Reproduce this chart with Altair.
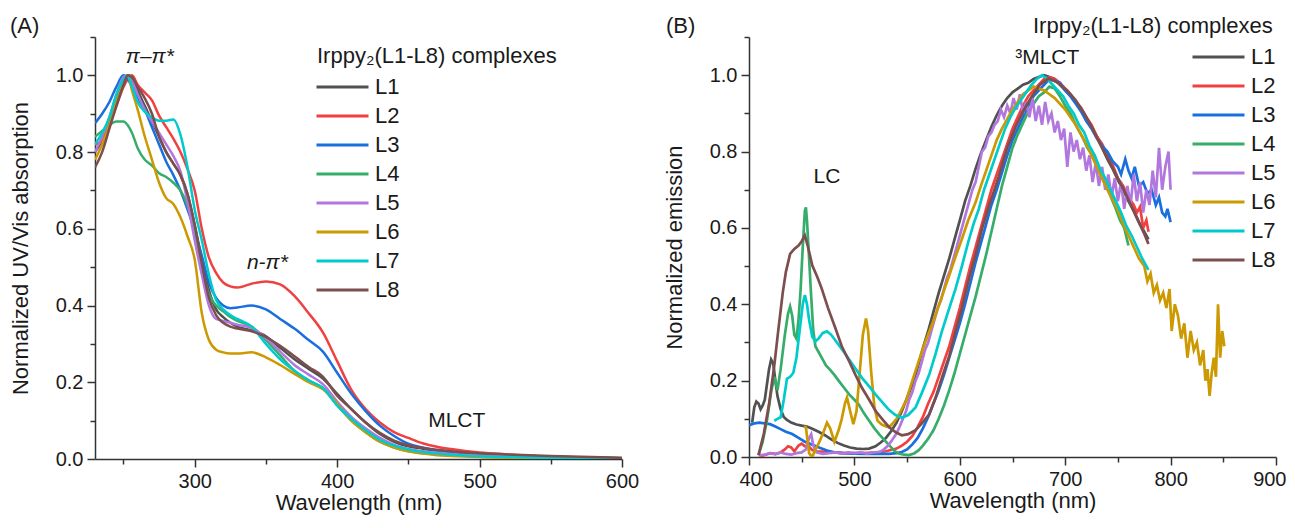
import altair as alt
import pandas as pd

FONT = "Liberation Sans"
series = ["L1", "L2", "L3", "L4", "L5", "L6", "L7", "L8"]
palette = ["#515151", "#F14040", "#1A6FDF", "#37AD6B", "#B177DE", "#CC9900", "#00CBCC", "#7D4E4E"]

# ---------------- Panel A: UV/Vis absorption ----------------
abs_wl = [230, 235, 240, 245, 250, 253, 256, 260, 265, 270, 275, 280, 285, 290, 295, 300, 305, 310, 315, 320,
          325, 330, 340, 350, 360, 370, 380, 390, 400, 410, 420, 430, 440, 450, 460, 470, 480, 500, 520, 550, 600]
abs_L1 = [0.80, 0.83, 0.88, 0.94, 0.985, 1.0, 0.99, 0.96, 0.92, 0.88, 0.84, 0.80, 0.77, 0.74, 0.69, 0.61, 0.52, 0.44, 0.39, 0.37,
          0.355, 0.345, 0.335, 0.32, 0.29, 0.26, 0.235, 0.21, 0.17, 0.13, 0.095, 0.065, 0.045, 0.033, 0.027, 0.022, 0.019, 0.014, 0.01, 0.006, 0.002]
abs_L2 = [0.82, 0.83, 0.87, 0.92, 0.97, 0.99, 1.0, 0.975, 0.955, 0.935, 0.895, 0.865, 0.835, 0.80, 0.755, 0.70, 0.60, 0.525, 0.485, 0.46,
          0.45, 0.447, 0.457, 0.463, 0.455, 0.425, 0.38, 0.33, 0.255, 0.18, 0.13, 0.095, 0.07, 0.055, 0.041, 0.032, 0.026, 0.017, 0.012, 0.006, 0.002]
abs_L3 = [0.875, 0.90, 0.93, 0.97, 1.0, 0.99, 0.97, 0.94, 0.91, 0.865, 0.82, 0.775, 0.74, 0.70, 0.65, 0.595, 0.53, 0.46, 0.42, 0.40,
          0.393, 0.395, 0.40, 0.39, 0.365, 0.34, 0.31, 0.28, 0.225, 0.17, 0.125, 0.087, 0.06, 0.04, 0.03, 0.022, 0.018, 0.012, 0.008, 0.005, 0.002]
abs_L4 = [0.84, 0.855, 0.87, 0.88, 0.88, 0.87, 0.85, 0.81, 0.78, 0.765, 0.745, 0.735, 0.72, 0.70, 0.66, 0.59, 0.50, 0.43, 0.40, 0.385,
          0.37, 0.36, 0.345, 0.31, 0.27, 0.23, 0.205, 0.185, 0.14, 0.10, 0.07, 0.045, 0.03, 0.02, 0.015, 0.012, 0.01, 0.006, 0.004, 0.002, 0.001]
abs_L5 = [0.80, 0.84, 0.89, 0.95, 0.995, 1.0, 0.985, 0.95, 0.91, 0.88, 0.85, 0.82, 0.79, 0.75, 0.67, 0.57, 0.48, 0.40, 0.365, 0.36,
          0.355, 0.35, 0.342, 0.315, 0.28, 0.245, 0.22, 0.195, 0.15, 0.11, 0.08, 0.055, 0.037, 0.026, 0.02, 0.016, 0.013, 0.009, 0.006, 0.003, 0.001]
abs_L6 = [0.78, 0.82, 0.87, 0.93, 0.98, 1.0, 0.96, 0.91, 0.84, 0.78, 0.72, 0.68, 0.665, 0.63, 0.58, 0.52, 0.38, 0.31, 0.285, 0.278,
          0.275, 0.275, 0.278, 0.265, 0.245, 0.222, 0.20, 0.182, 0.145, 0.10, 0.07, 0.045, 0.03, 0.02, 0.014, 0.01, 0.008, 0.005, 0.003, 0.002, 0.001]
abs_L7 = [0.82, 0.85, 0.89, 0.95, 0.99, 1.0, 0.97, 0.93, 0.905, 0.89, 0.882, 0.882, 0.885, 0.845, 0.76, 0.65, 0.57, 0.48, 0.415, 0.39,
          0.375, 0.365, 0.345, 0.30, 0.26, 0.23, 0.205, 0.185, 0.14, 0.105, 0.075, 0.05, 0.035, 0.025, 0.018, 0.014, 0.011, 0.007, 0.005, 0.003, 0.001]
abs_L8 = [0.76, 0.80, 0.86, 0.92, 0.975, 1.0, 0.995, 0.97, 0.94, 0.90, 0.84, 0.80, 0.77, 0.74, 0.69, 0.61, 0.51, 0.42, 0.375, 0.355,
          0.345, 0.34, 0.333, 0.318, 0.295, 0.268, 0.24, 0.215, 0.165, 0.13, 0.095, 0.068, 0.048, 0.036, 0.029, 0.024, 0.02, 0.015, 0.012, 0.008, 0.003]

# ---------------- Panel B: emission ----------------
em_L1_wl = [403, 405, 407, 409, 411, 413, 415, 417, 419, 421, 423, 425, 427, 430, 433, 436, 440, 445, 450, 455, 460, 466, 472, 478,
            484, 490, 496, 502, 508, 514, 520, 525, 530, 535, 540, 545, 550, 555, 560, 565, 570, 575, 580, 585, 590, 595, 600, 605,
            610, 615, 620, 625, 630, 635, 640, 645, 650, 655, 660, 665, 670, 675, 680, 685, 690, 695, 700, 705, 710, 715, 720, 725,
            730, 735, 740, 745, 750, 755, 760, 765, 770, 775, 779]
em_L1 = [0.09, 0.13, 0.145, 0.14, 0.125, 0.135, 0.15, 0.19, 0.23, 0.255, 0.245, 0.20, 0.16, 0.125, 0.105, 0.097, 0.09, 0.085, 0.082, 0.08, 0.074, 0.066, 0.057, 0.046,
         0.037, 0.03, 0.025, 0.022, 0.021, 0.022, 0.028, 0.038, 0.05, 0.068, 0.09, 0.12, 0.155, 0.19, 0.235, 0.285, 0.33, 0.38, 0.43, 0.475, 0.52, 0.57, 0.62, 0.67,
         0.71, 0.755, 0.795, 0.83, 0.865, 0.895, 0.92, 0.94, 0.955, 0.965, 0.975, 0.98, 0.99, 0.995, 1.0, 0.995, 0.99, 0.975, 0.96, 0.945, 0.93, 0.91, 0.89, 0.865,
         0.84, 0.81, 0.78, 0.755, 0.725, 0.70, 0.67, 0.645, 0.615, 0.59, 0.57]

em_L2_wl = [410, 415, 420, 425, 430, 434, 437, 440, 443, 447, 450, 453, 456, 460, 465, 470, 480, 490, 500, 510, 520, 530, 540, 545,
            550, 555, 560, 565, 570, 575, 580, 585, 590, 595, 600, 605, 610, 615, 620, 625, 630, 635, 640, 645, 650, 655, 660, 665,
            670, 675, 680, 685, 690, 695, 700, 705, 710, 715, 720, 725, 730, 735, 740, 745, 750, 755, 760, 765, 768, 771, 774, 777, 779]
em_L2 = [0.0, 0.005, 0.01, 0.008, 0.012, 0.02, 0.028, 0.025, 0.015, 0.03, 0.035, 0.028, 0.03, 0.018, 0.015, 0.014, 0.012, 0.01, 0.01, 0.01, 0.012, 0.015, 0.022, 0.03,
         0.04, 0.055, 0.078, 0.105, 0.14, 0.17, 0.21, 0.25, 0.29, 0.34, 0.39, 0.445, 0.50, 0.55, 0.60, 0.65, 0.70, 0.74, 0.78, 0.82, 0.86, 0.89, 0.92, 0.945,
         0.96, 0.975, 0.99, 0.995, 0.99, 0.98, 0.965, 0.95, 0.93, 0.915, 0.89, 0.87, 0.84, 0.82, 0.79, 0.765, 0.73, 0.71, 0.68, 0.66, 0.64, 0.655, 0.60, 0.62, 0.59]

em_L3_wl = [400, 405, 410, 415, 420, 425, 430, 435, 441, 447, 453, 460, 467, 474, 481, 490, 500, 511, 522, 533, 540, 545, 550, 555,
            560, 565, 570, 575, 580, 585, 590, 595, 600, 605, 610, 615, 620, 625, 630, 635, 640, 645, 650, 655, 660, 665, 670, 675,
            680, 685, 690, 695, 700, 705, 710, 715, 720, 725, 730, 735, 740, 745, 750, 753, 757, 760, 763, 766, 770, 774, 778, 782,
            786, 789, 792, 795, 797, 800]
em_L3 = [0.083, 0.088, 0.09, 0.088, 0.086, 0.08, 0.073, 0.066, 0.06, 0.05, 0.04, 0.032, 0.024, 0.017, 0.012, 0.01, 0.009, 0.008, 0.008, 0.008, 0.01, 0.013, 0.02, 0.033,
         0.05, 0.075, 0.105, 0.14, 0.175, 0.215, 0.26, 0.305, 0.35, 0.40, 0.455, 0.51, 0.56, 0.61, 0.66, 0.70, 0.745, 0.79, 0.83, 0.86, 0.89, 0.92, 0.945, 0.96,
         0.975, 0.99, 0.985, 0.98, 0.96, 0.945, 0.925, 0.905, 0.88, 0.86, 0.835, 0.815, 0.80, 0.775, 0.76, 0.74, 0.78, 0.75, 0.73, 0.76, 0.71, 0.72, 0.69, 0.70,
         0.66, 0.68, 0.64, 0.63, 0.65, 0.615]

em_L4_wl = [409, 413, 417, 421, 424, 427, 430, 434, 437, 439, 441, 443, 445, 447, 449, 451, 453, 454, 455, 457, 459, 461, 463, 466,
            470, 473, 477, 481, 485, 490, 495, 500, 504, 509, 514, 519, 524, 529, 534, 538, 542, 547, 552, 557, 561, 565, 570, 575,
            580, 585, 590, 595, 600, 605, 610, 615, 620, 625, 630, 635, 640, 645, 650, 655, 660, 665, 670, 675, 680, 685, 690, 695,
            700, 705, 710, 716, 721, 726, 732, 737, 742, 748, 752, 756, 760]
em_L4 = [0.005, 0.04, 0.095, 0.17, 0.21, 0.175, 0.23, 0.32, 0.375, 0.394, 0.37, 0.32, 0.31, 0.36, 0.44, 0.55, 0.645, 0.654, 0.62, 0.52, 0.42, 0.33, 0.29, 0.275,
         0.255, 0.24, 0.228, 0.215, 0.20, 0.182, 0.164, 0.15, 0.138, 0.115, 0.095, 0.075, 0.058, 0.043, 0.028, 0.016, 0.009, 0.006, 0.005, 0.01, 0.018, 0.03, 0.048, 0.07,
         0.10, 0.135, 0.175, 0.22, 0.27, 0.32, 0.37, 0.42, 0.475, 0.53, 0.59, 0.65, 0.71, 0.76, 0.81, 0.845, 0.875, 0.905, 0.925, 0.945, 0.955, 0.97, 0.965, 0.945,
         0.92, 0.90, 0.87, 0.84, 0.81, 0.79, 0.753, 0.72, 0.69, 0.65, 0.62, 0.60, 0.554]

em_L5_wl = [409, 415, 420, 425, 430, 435, 440, 445, 450, 454, 457, 459, 461, 464, 470, 476, 482, 488, 494, 500, 506, 512, 518, 524,
            528, 532, 536, 540, 543, 546, 549, 552, 555, 558, 561, 564, 567, 570, 573, 576, 579, 582, 585, 588, 591, 594, 597, 600,
            603, 606, 609, 612, 615, 618, 621, 624, 627, 630, 633, 636, 639, 642, 645, 648, 651, 654, 657, 660, 663, 666, 669, 672,
            675, 678, 681, 684, 687, 690, 693, 696, 699, 702, 705, 708, 711, 714, 717, 720, 723, 726, 729, 732, 735, 738, 741, 744,
            747, 750, 753, 756, 759, 762, 765, 768, 771, 774, 777, 780, 783, 786, 789, 792, 795, 798, 800]
em_L5 = [0.005, 0.006, 0.01, 0.007, 0.012, 0.008, 0.006, 0.01, 0.012, 0.02, 0.05, 0.06, 0.03, 0.012, 0.008, 0.01, 0.012, 0.009, 0.012, 0.01, 0.012, 0.009, 0.012, 0.013,
         0.02, 0.03, 0.045, 0.062, 0.08, 0.10, 0.12, 0.15, 0.17, 0.20, 0.22, 0.25, 0.28, 0.30, 0.33, 0.36, 0.39, 0.41, 0.44, 0.47, 0.49, 0.52, 0.55, 0.58,
         0.61, 0.64, 0.67, 0.70, 0.72, 0.76, 0.80, 0.81, 0.84, 0.85, 0.87, 0.88, 0.91, 0.89, 0.92, 0.90, 0.94, 0.91, 0.95, 0.90, 0.93, 0.89, 0.94, 0.88,
         0.92, 0.87, 0.93, 0.88, 0.90, 0.85, 0.88, 0.83, 0.86, 0.76, 0.85, 0.80, 0.83, 0.78, 0.81, 0.75, 0.79, 0.72, 0.77, 0.71, 0.76, 0.70, 0.74, 0.68,
         0.73, 0.67, 0.72, 0.65, 0.71, 0.66, 0.74, 0.67, 0.72, 0.64, 0.70, 0.66, 0.75, 0.68, 0.81, 0.70, 0.76, 0.80, 0.70]

em_L6_wl = [452, 454, 457, 460, 463, 466, 470, 474, 477, 481, 485, 488, 491, 493, 496, 499, 502, 505, 508, 511, 513, 516, 519, 522,
            526, 530, 533, 537, 540, 544, 549, 555, 561, 567, 572, 577, 583, 590, 596, 602, 608, 615, 620, 625, 630, 635, 640, 645,
            650, 655, 660, 665, 670, 675, 680, 685, 690, 695, 700, 705, 710, 715, 720, 725, 730, 735, 740, 745, 750, 755, 760, 765,
            770, 775, 778, 781, 784, 787, 790, 793, 796, 799, 801, 804, 807, 810, 813, 816, 819, 822, 825, 828, 831, 833, 835, 837,
            839, 841, 843, 845, 847, 849, 851]
em_L6 = [0.08, 0.078, 0.01, 0.0, 0.02, 0.035, 0.06, 0.09, 0.075, 0.04, 0.07, 0.10, 0.14, 0.156, 0.12, 0.086, 0.12, 0.22, 0.32, 0.363, 0.33, 0.22, 0.13, 0.095,
         0.085, 0.08, 0.078, 0.09, 0.10, 0.12, 0.147, 0.20, 0.251, 0.30, 0.335, 0.372, 0.42, 0.476, 0.525, 0.571, 0.62, 0.667, 0.71, 0.75, 0.79, 0.83, 0.86, 0.885,
         0.91, 0.93, 0.95, 0.96, 0.97, 0.965, 0.96, 0.95, 0.94, 0.925, 0.91, 0.89, 0.87, 0.845, 0.82, 0.79, 0.76, 0.73, 0.70, 0.675, 0.645, 0.61, 0.58, 0.55,
         0.52, 0.50, 0.46, 0.48, 0.43, 0.45, 0.41, 0.43, 0.39, 0.44, 0.33, 0.40, 0.37, 0.31, 0.35, 0.26, 0.33, 0.28, 0.30, 0.24, 0.28, 0.20, 0.23, 0.16,
         0.22, 0.26, 0.21, 0.40, 0.26, 0.33, 0.29]

em_L7_wl = [424, 427, 430, 433, 436, 439, 442, 445, 448, 451, 453, 455, 457, 460, 463, 466, 470, 474, 478, 482, 486, 490, 495, 501,
            507, 514, 520, 527, 533, 539, 545, 551, 558, 564, 571, 577, 583, 590, 596, 602, 608, 613, 618, 623, 628, 633, 638, 643,
            648, 653, 658, 663, 668, 673, 678, 683, 688, 693, 698, 703, 708, 713, 718, 723, 728, 733, 738, 743, 748, 753, 758, 763,
            768, 773, 779]
em_L7 = [0.095, 0.10, 0.104, 0.15, 0.205, 0.21, 0.22, 0.26, 0.33, 0.40, 0.424, 0.40, 0.36, 0.315, 0.303, 0.31, 0.325, 0.329, 0.32, 0.305, 0.29, 0.275, 0.255, 0.232,
         0.208, 0.185, 0.164, 0.142, 0.123, 0.11, 0.103, 0.11, 0.13, 0.168, 0.216, 0.27, 0.329, 0.39, 0.441, 0.50, 0.563, 0.61, 0.649, 0.70, 0.74, 0.78, 0.82, 0.86,
         0.89, 0.915, 0.935, 0.955, 0.975, 0.99, 1.0, 0.99, 0.975, 0.96, 0.945, 0.92, 0.90, 0.87, 0.85, 0.815, 0.79, 0.755, 0.73, 0.70, 0.67, 0.64, 0.605, 0.58,
         0.55, 0.52, 0.49]

em_L8_wl = [409, 414, 419, 424, 428, 432, 435, 439, 443, 447, 450, 453, 456, 460, 465, 469, 475, 482, 488, 495, 501, 507, 514, 520,
            527, 533, 539, 545, 551, 558, 564, 571, 577, 583, 590, 596, 602, 608, 615, 621, 628, 637, 645, 653, 660, 668, 676, 684,
            690, 694, 702, 710, 718, 725, 733, 741, 749, 757, 764, 770, 775, 779]
em_L8 = [0.005, 0.06, 0.138, 0.24, 0.337, 0.43, 0.485, 0.532, 0.545, 0.554, 0.565, 0.58, 0.55, 0.502, 0.47, 0.441, 0.39, 0.337, 0.29, 0.251, 0.215, 0.182, 0.15, 0.121,
         0.097, 0.078, 0.065, 0.057, 0.06, 0.07, 0.088, 0.112, 0.155, 0.208, 0.265, 0.329, 0.39, 0.459, 0.53, 0.597, 0.66, 0.735, 0.81, 0.865, 0.905, 0.943, 0.975, 0.991,
         0.985, 0.978, 0.96, 0.934, 0.90, 0.865, 0.82, 0.779, 0.735, 0.692, 0.65, 0.614, 0.585, 0.558]

legend_title = "Irppy\u2082(L1-L8) complexes"
panel_tags = ["(A)", "(B)"]
axis_titles_y = ["Normalized UV/Vis absorption", "Normalized emission"]
axis_title_x = "Wavelength (nm)"

annA_italic_text = ["\u03c0\u2013\u03c0*", "n-\u03c0*"]
annA_italic_wl = [268.5, 351]
annA_italic_val = [1.047, 0.511]
annA_text = ["MLCT"]
annA_wl = [484]
annA_val = [0.10]
annB_text = ["LC", "\u00b3MLCT"]
annB_wl = [474, 683]
annB_val = [0.733, 1.046]


def long_table(wls, vals):
    rows = []
    for s, w, v in zip(series, wls, vals):
        for a, b in zip(w, v):
            rows.append((s, a, b))
    return pd.DataFrame(rows, columns=["series", "wl", "val"])


dfA = long_table([abs_wl] * 8, [abs_L1, abs_L2, abs_L3, abs_L4, abs_L5, abs_L6, abs_L7, abs_L8])
dfB = long_table([em_L1_wl, em_L2_wl, em_L3_wl, em_L4_wl, em_L5_wl, em_L6_wl, em_L7_wl, em_L8_wl],
                 [em_L1, em_L2, em_L3, em_L4, em_L5, em_L6, em_L7, em_L8])

TXT = "#1a1a1a"


def panel(df, xdom, xmajor, xminor, ytitle, ann_layers, tag, tag_x, leg_x, leg_y, lt_x, lt_y, interp, h, sw, flush):
    xs = alt.Scale(domain=xdom, nice=False, zero=False)
    ys = alt.Scale(domain=[0, 1.1], nice=False, zero=False)
    lines = alt.Chart(df).mark_line(strokeWidth=sw, interpolate=interp, clip=True).encode(
        x=alt.X("wl:Q", scale=xs, axis=alt.Axis(values=xmajor, title=axis_title_x, format="d", tickSize=8,
                                                orient="bottom", labelFlush=flush, labelFlushOffset=10)),
        y=alt.Y("val:Q", scale=ys, axis=alt.Axis(values=[0, 0.2, 0.4, 0.6, 0.8, 1.0], format=".1f", title=ytitle,
                                                 tickSize=8, orient="left")),
        color=alt.Color("series:N", scale=alt.Scale(domain=series, range=palette),
                        legend=alt.Legend(orient="none", legendX=leg_x, legendY=leg_y, title=None)),
    )
    layers = [lines]
    for i, (adf, style) in enumerate(ann_layers):
        enc = {}
        if i == 0:
            enc["x"] = alt.X("wl:Q", scale=xs, axis=alt.Axis(values=xminor, labels=False, domain=False, tickSize=5,
                                                             title=None, orient="bottom"))
            enc["y"] = alt.Y("val:Q", scale=ys, axis=alt.Axis(values=[0.1, 0.3, 0.5, 0.7, 0.9, 1.1], labels=False,
                                                              domain=False, tickSize=5, title=None, orient="left"))
        else:
            enc["x"] = alt.X("wl:Q", scale=xs, axis=None)
            enc["y"] = alt.Y("val:Q", scale=ys, axis=None)
        layers.append(alt.Chart(adf).mark_text(font=FONT, fontSize=21, fontStyle=style, color=TXT,
                                               baseline="middle").encode(text="text:N", **enc))
    layers.append(alt.Chart(pd.DataFrame({"t": [tag]})).mark_text(
        font=FONT, fontSize=22, align="left", baseline="alphabetic", color=TXT).encode(
        text="t:N", x=alt.value(tag_x), y=alt.value(-4)))
    layers.append(alt.Chart(pd.DataFrame({"t": [legend_title]})).mark_text(
        font=FONT, fontSize=22, align="left", baseline="alphabetic", color=TXT).encode(
        text="t:N", x=alt.value(lt_x), y=alt.value(lt_y)))
    return alt.layer(*layers).resolve_axis(x="independent", y="independent").properties(width=527, height=h)


annA = [
    (pd.DataFrame({"text": annA_italic_text, "wl": annA_italic_wl, "val": annA_italic_val}), "italic"),
    (pd.DataFrame({"text": annA_text, "wl": annA_wl, "val": annA_val}), "normal"),
]
annB = [
    (pd.DataFrame({"text": annB_text, "wl": annB_wl, "val": annB_val}), "normal"),
]

chartA = panel(dfA, [230, 600], [300, 400, 500, 600], [250, 350, 450, 550], axis_titles_y[0], annA,
               panel_tags[0], -85, 220, 40, 222, 26, "monotone", 422, 2.5, False)
chartB = panel(dfB, [400, 900], [400, 500, 600, 700, 800, 900], [450, 550, 650, 750, 850], axis_titles_y[1], annB,
               panel_tags[1], -83, 442, 10, 284, -4, "linear", 420, 2.7, True)

chart = alt.hconcat(chartA, chartB, spacing=24).resolve_scale(color="independent").resolve_legend(
    color="independent").properties(padding={"left": 1, "top": 7, "right": 0, "bottom": 2}).configure_view(
    stroke=None).configure_axis(
    labelFont=FONT, labelFontSize=20, titleFont=FONT, titleFontSize=22, titleFontWeight="normal",
    domainColor="#333333", domainWidth=1.5, tickColor="#333333", tickWidth=1.5, labelColor=TXT, titleColor=TXT,
    grid=False, labelPadding=4).configure_axisX(titlePadding=1, labelPadding=4).configure_axisY(
    titlePadding=23).configure_legend(
    symbolType="stroke", symbolStrokeWidth=3, symbolSize=2704, clipHeight=20, rowPadding=7, labelOffset=5,
    labelFont=FONT, labelFontSize=22, labelColor=TXT, padding=0)

chart.save("out.html", embed_options={"renderer": "svg", "actions": False})
